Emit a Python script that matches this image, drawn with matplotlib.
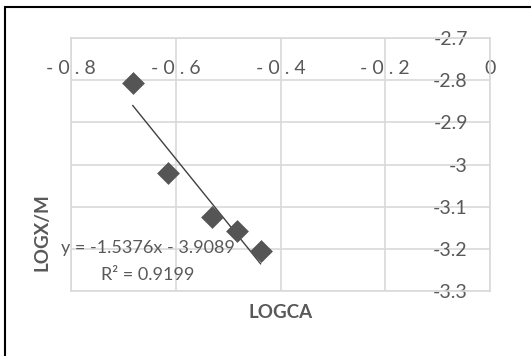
import matplotlib
matplotlib.use("Agg")
import matplotlib.pyplot as plt
from matplotlib.patches import Rectangle

# values
logca = [-0.682, -0.614, -0.531, -0.483, -0.438]
logxm = [-2.807, -3.019, -3.124, -3.158, -3.204]
slope, intercept = -1.5376, -3.9089
r2 = 0.9199
xticks = [-0.8, -0.6, -0.4, -0.2, 0]
xticklabels = ["- 0 . 8", "- 0 . 6", "- 0 . 4", "- 0 . 2", "0"]
yticks = [-2.7, -2.8, -2.9, -3.0, -3.1, -3.2, -3.3]
yticklabels = ["-2.7", "-2.8", "-2.9", "-3", "-3.1", "-3.2", "-3.3"]

plt.rcParams['font.family'] = ['Lato', 'DejaVu Sans']
gray = '#595959'
grid = '#d9d9d9'

fig = plt.figure(figsize=(5.31, 3.56), dpi=100)
ax = fig.add_axes([71/531, 1 - 291/356, 419/531, 253/356])

ax.scatter(logca, logxm, marker='D', s=135, color='#555555', zorder=3, linewidths=0)
xs = [min(logca), max(logca)]
ax.plot(xs, [slope * x + intercept for x in xs], color='#404040', lw=1.0, zorder=2)

ax.set_xlim(-0.8, 0)
ax.set_ylim(-3.3, -2.7)
ax.set_xticks(xticks)
ax.set_xticklabels(xticklabels)
ax.set_yticks(yticks)
ax.set_yticklabels(yticklabels)
ax.grid(True, color=grid, lw=1.2)
ax.set_axisbelow(True)
for s in ax.spines.values():
    s.set_color(grid)
    s.set_linewidth(1.2)

ax.tick_params(axis='x', top=True, labeltop=True, bottom=False, labelbottom=False,
               length=0, pad=-28, labelsize=14, labelcolor=gray)
ax.tick_params(axis='y', right=True, labelright=True, left=False, labelleft=False,
               length=0, pad=-16, labelsize=14, labelcolor=gray)
for lab in ax.get_yticklabels():
    lab.set_horizontalalignment('right')

ax.text(0.184, 0.170, f"y = {slope}x - {abs(intercept)}", transform=ax.transAxes,
        ha='center', va='center', fontsize=13, color=gray)
ax.text(0.184, 0.063, f"R² = {r2}", transform=ax.transAxes,
        ha='center', va='center', fontsize=13, color=gray)

fig.text(281/531, 1 - 312/356, "LOGCA", ha='center', va='center',
         fontsize=13.5, fontweight='bold', color=gray)
fig.text(42/531, 1 - 232/356, "LOGX/M", ha='center', va='center', rotation=90,
         fontsize=13.5, fontweight='bold', color=gray)

fig.patches.append(Rectangle((5/531, -0.1), 2, 1.1 - 7/356, transform=fig.transFigure,
                             fill=False, edgecolor='black', lw=1.5))

fig.savefig("out.png", dpi=100)
